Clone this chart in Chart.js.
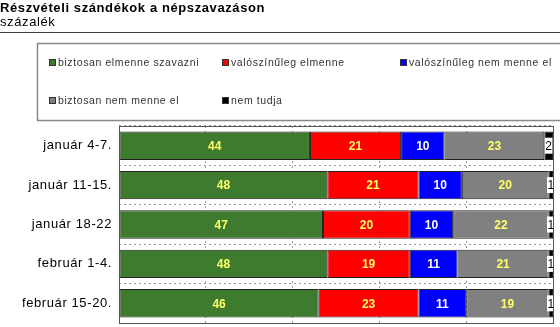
<!DOCTYPE html>
<html lang="hu">
<head>
<meta charset="UTF-8">
<title>Részvételi szándékok a népszavazáson</title>
<script src="https://cdn.jsdelivr.net/npm/chart.js"></script>
<style>
  body { margin: 0; background: #fff; }
  #wrap { width: 560px; height: 327px; position: relative; }
</style>
</head>
<body>
<div id="wrap"><canvas id="chart"></canvas></div>
<script>
// data (percent)
const periods = ['január 4-7.', 'január 11-15.', 'január 18-22', 'február 1-4.', 'február 15-20.'];
const surelyGo = [44, 48, 47, 48, 46];
const probablyGo = [21, 21, 20, 19, 23];
const probablyNot = [10, 10, 10, 11, 11];
const surelyNot = [23, 20, 22, 21, 19];
const dontKnow = [2, 1, 1, 1, 1];
const seriesNames = ['biztosan elmenne szavazni', 'valószínűleg elmenne', 'valószínűleg nem menne el', 'biztosan nem menne el', 'nem tudja'];
const seriesColors = ['#3f7b2f', '#ff0000', '#0000ff', '#808080', '#000000'];
const labelColors = ['#ffff66', '#ffff66', '#ffffff', '#ffff66', '#000000'];

const FONT = '"Liberation Sans", Arial, sans-serif';

// the old excel export renders text a bit wider, so space letters out
const spacing = {
    id: 'spacing',
    beforeDraw(chart) { chart.ctx.letterSpacing = '0.6px'; },
    afterDraw(chart) { chart.ctx.letterSpacing = '0px'; }
};

// header, legend box, plot frame
const framePlugin = {
    id: 'frame',
    beforeDraw(chart) {
        const ctx = chart.ctx;
        ctx.save();
        ctx.fillStyle = '#000';
        ctx.textBaseline = 'alphabetic';
        ctx.textAlign = 'left';
        ctx.font = 'bold 13px ' + FONT;
        ctx.fillText('Részvételi szándékok a népszavazáson', 0, 12);
        ctx.font = '13px ' + FONT;
        ctx.fillText('százalék', 0, 26);

        ctx.strokeStyle = '#404040';
        ctx.lineWidth = 1;
        ctx.beginPath();
        ctx.moveTo(0, 32.5);
        ctx.lineTo(560, 32.5);
        ctx.stroke();

        // legend
        ctx.strokeStyle = '#888';
        ctx.lineWidth = 1.5;
        ctx.strokeRect(37.5, 43.5, 540, 77);
        const pos = [[49, 63], [222, 63], [400, 63], [49, 101], [222, 101]];
        ctx.font = '10.5px ' + FONT;
        ctx.textBaseline = 'middle';
        chart.data.datasets.forEach((ds, i) => {
            const [x, y] = pos[i];
            ctx.fillStyle = ds.backgroundColor;
            ctx.fillRect(x, y - 4, 7, 7);
            ctx.strokeStyle = '#333';
            ctx.lineWidth = 1;
            ctx.strokeRect(x + 0.5, y - 3.5, 6, 6);
            ctx.fillStyle = '#333';
            ctx.fillText(ds.label, x + 9, y);
        });
        ctx.restore();
    },
    afterDraw(chart) {
        const a = chart.chartArea;
        const ctx = chart.ctx;
        ctx.save();
        ctx.strokeStyle = '#555';
        ctx.lineWidth = 1;
        ctx.strokeRect(Math.round(a.left) + 0.5, Math.round(a.top) + 0.5,
            Math.round(a.right - a.left), Math.round(a.bottom - a.top));
        ctx.restore();
    }
};

// numbers inside the bar segments
const valueLabels = {
    id: 'valueLabels',
    afterDatasetsDraw(chart) {
        const ctx = chart.ctx;
        ctx.save();
        ctx.letterSpacing = '0px';
        ctx.textAlign = 'center';
        ctx.textBaseline = 'middle';
        chart.data.datasets.forEach((ds, i) => {
            chart.getDatasetMeta(i).data.forEach((bar, j) => {
                const v = String(ds.data[j]);
                const x = (bar.x + bar.base) / 2;
                const y = bar.y;
                if (i === 4) {
                    ctx.font = '12px ' + FONT;
                    const w = ctx.measureText(v).width + 1;
                    ctx.fillStyle = '#fff';
                    ctx.fillRect(x - w / 2, y - 8, w, 16);
                    ctx.fillStyle = '#000';
                    ctx.fillText(v, x, y + 1);
                } else {
                    ctx.font = 'bold 12px ' + FONT;
                    ctx.fillStyle = labelColors[i];
                    ctx.fillText(v, x, y + 1);
                }
            });
        });
        ctx.restore();
    }
};

const allSeries = [surelyGo, probablyGo, probablyNot, surelyNot, dontKnow];

new Chart(document.getElementById('chart'), {
    type: 'bar',
    data: {
        labels: periods,
        datasets: allSeries.map((d, i) => ({
            label: seriesNames[i],
            data: d,
            backgroundColor: seriesColors[i],
            borderColor: '#222',
            borderWidth: 1,
            borderSkipped: false,
            barPercentage: 0.72,
            categoryPercentage: 1
        }))
    },
    options: {
        indexAxis: 'y',
        responsive: true,
        maintainAspectRatio: false,
        animation: false,
        layout: { padding: { top: 126, right: 7, bottom: 4, left: 0 } },
        plugins: {
            legend: { display: false },
            tooltip: { enabled: false }
        },
        scales: {
            x: {
                stacked: true,
                min: 0,
                max: 100,
                afterFit(scale) { scale.height = 0; },
                ticks: { display: false, stepSize: 20 },
                grid: { color: '#999', drawTicks: false },
                border: { display: false, dash: [2, 3] }
            },
            y: {
                stacked: true,
                afterFit(scale) {
                    scale.width = 119;
                    scale.paddingTop = 0;
                    scale.paddingBottom = 0;
                },
                ticks: { color: '#000', font: { family: FONT, size: 13 }, padding: 7 },
                grid: { offset: true, color: '#999', drawTicks: false },
                border: { display: false, dash: [2, 3] }
            }
        }
    },
    plugins: [spacing, framePlugin, valueLabels]
});
</script>
</body>
</html>
